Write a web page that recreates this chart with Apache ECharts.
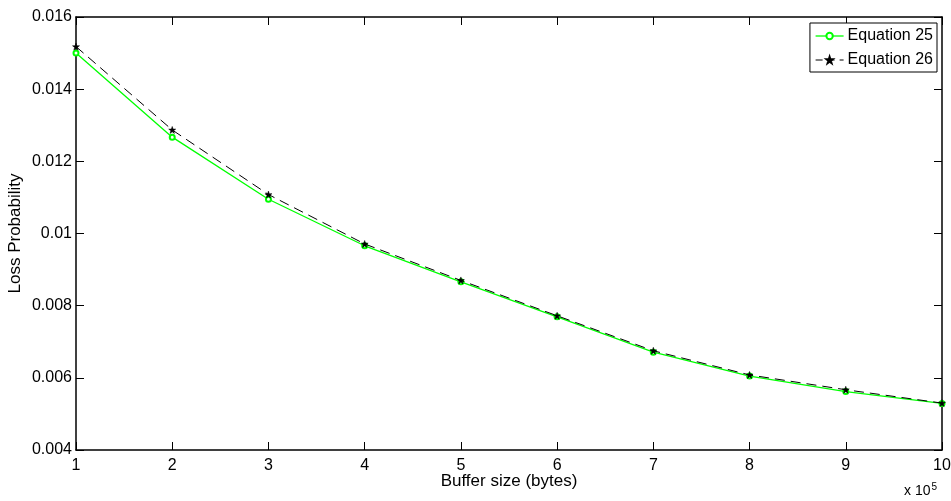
<!DOCTYPE html>
<html>
<head>
<meta charset="utf-8">
<script src="https://cdn.jsdelivr.net/npm/echarts@6/dist/echarts.min.js"></script>
<style>
  html, body { margin: 0; padding: 0; background: #fff; }
  #chart { width: 951px; height: 501px; }
</style>
</head>
<body>
<div id="chart"></div>
<script>
// Buffer size in units of 1e5 bytes
const bufferSizes = [1, 2, 3, 4, 5, 6, 7, 8, 9, 10];
// Loss probability from the two analytical expressions
const equation25 = [0.01500, 0.01267, 0.01095, 0.00966, 0.00866, 0.00769, 0.00671, 0.00605, 0.00562, 0.00529];
const equation26 = [0.01518, 0.01287, 0.01108, 0.00971, 0.00870, 0.00772, 0.00675, 0.00608, 0.00567, 0.00530];
const seriesNames = ['Equation 25', 'Equation 26'];

const FONT = 'Liberation Sans, Arial, sans-serif';
const STAR = 'path://M0,-10 L2.35,-3.24 L9.51,-3.09 L3.8,1.24 L5.88,8.09 L0,4 L-5.88,8.09 L-3.8,1.24 L-9.51,-3.09 L-2.35,-3.24 Z';
const GREEN = '#00ff00';
const DASH = [10, 6];

const pairs = ys => bufferSizes.map((x, i) => [x, ys[i]]);
const fmtY = v => parseFloat(v.toFixed(3)).toString();

const tickStyle = { inside: true, length: 8, lineStyle: { color: '#000', width: 1 } };
const lineStyle = { lineStyle: { color: '#000', width: 1.5 } };

const chart = echarts.init(document.getElementById('chart'), null, { renderer: 'canvas' });
chart.setOption({
  animation: false,
  backgroundColor: '#fff',
  grid: { left: 76, right: 9, top: 17, bottom: 51, containLabel: false, outerBoundsMode: 'none' },
  legend: {
    data: [
      { name: seriesNames[0], itemStyle: { color: GREEN, borderColor: GREEN }, lineStyle: { color: GREEN, width: 1.3 } },
      { name: seriesNames[1], itemStyle: { color: '#000', borderColor: '#000' }, lineStyle: { color: '#000', width: 1, type: [7, 5] } }
    ],
    orient: 'vertical',
    right: 14,
    top: 23,
    backgroundColor: '#fff',
    borderColor: '#000',
    borderWidth: 1,
    borderRadius: 0,
    padding: [4, 4, 3, 5],
    itemWidth: 28,
    itemHeight: 8,
    itemGap: 6,
    textStyle: { fontFamily: FONT, fontSize: 16, color: '#000', lineHeight: 18, padding: [0, 0, 0, -1] }
  },
  xAxis: [
    {
      type: 'value', min: 1, max: 10, interval: 1, position: 'bottom',
      name: 'Buffer size (bytes)', nameLocation: 'middle', nameGap: 23, nameMoveOverlap: false,
      nameTextStyle: { fontFamily: FONT, fontSize: 17, color: '#000' },
      axisLine: lineStyle, axisTick: tickStyle,
      axisLabel: { fontFamily: FONT, fontSize: 16, color: '#000', margin: 8 },
      splitLine: { show: false }
    },
    {
      type: 'value', min: 1, max: 10, interval: 1, position: 'top',
      axisLine: lineStyle, axisTick: tickStyle,
      axisLabel: { show: false }, splitLine: { show: false }
    }
  ],
  yAxis: [
    {
      type: 'value', min: 0.004, max: 0.016, interval: 0.002, position: 'left',
      name: 'Loss Probability', nameLocation: 'middle', nameGap: 52, nameRotate: 90, nameMoveOverlap: false,
      nameTextStyle: { fontFamily: FONT, fontSize: 17, color: '#000' },
      axisLine: lineStyle, axisTick: tickStyle,
      axisLabel: { fontFamily: FONT, fontSize: 16, color: '#000', margin: 4, formatter: fmtY },
      splitLine: { show: false }
    },
    {
      type: 'value', min: 0.004, max: 0.016, interval: 0.002, position: 'right',
      axisLine: lineStyle, axisTick: tickStyle,
      axisLabel: { show: false }, splitLine: { show: false }
    }
  ],
  series: [
    {
      name: seriesNames[0], type: 'line', data: pairs(equation25),
      symbol: 'emptyCircle', symbolSize: 5, showAllSymbol: true,
      lineStyle: { color: GREEN, width: 1.3 },
      itemStyle: { color: GREEN, borderColor: GREEN, borderWidth: 1.5 },
      z: 2
    },
    {
      name: seriesNames[1], type: 'line', data: pairs(equation26),
      symbol: STAR, symbolSize: 7, showAllSymbol: true,
      lineStyle: { color: '#000', width: 1, type: DASH },
      itemStyle: { color: '#000', borderColor: '#000', borderWidth: 0.5 },
      z: 3
    }
  ],
  graphic: [
    {
      type: 'text', left: 904, top: 482,
      style: {
        text: '{b|x 10}{s|5}',
        rich: {
          b: { fontFamily: FONT, fontSize: 14, fill: '#000', verticalAlign: 'bottom', lineHeight: 16 },
          s: { fontFamily: FONT, fontSize: 10, fill: '#000', verticalAlign: 'top', lineHeight: 10, padding: [0, 0, 10, 1] }
        }
      }
    }
  ]
});
</script>
</body>
</html>
